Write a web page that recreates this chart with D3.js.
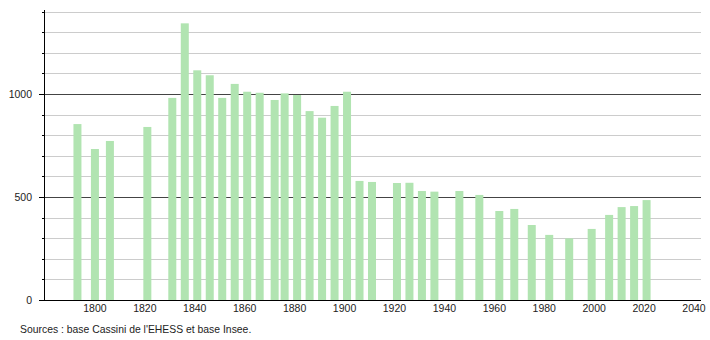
<!DOCTYPE html>
<html>
<head>
<meta charset="utf-8">
<script src="https://cdn.jsdelivr.net/npm/d3@7"></script>
<style>
  body { margin: 0; background: #fff; }
  text { font-family: "Liberation Sans", Arial, sans-serif; }
</style>
</head>
<body>
<div id="viz"></div>
<script>
let years = [1793, 1800, 1806, 1821, 1831, 1836, 1841, 1846, 1851, 1856, 1861, 1866,
  1872, 1876, 1881, 1886, 1891, 1896, 1901, 1906, 1911, 1921, 1926, 1931, 1936,
  1946, 1954, 1962, 1968, 1975, 1982, 1990, 1999, 2006, 2011, 2016, 2021]
let population = [854, 733, 772, 840, 981, 1343, 1115, 1091, 981, 1049, 1011, 1006,
  971, 1003, 995, 917, 885, 942, 1011, 578, 573, 568, 569, 529, 526,
  529, 510, 432, 442, 364, 316, 299, 345, 413, 451, 456, 485]
let xTicks = [1800, 1820, 1840, 1860, 1880, 1900, 1920, 1940, 1960, 1980, 2000, 2020, 2040]
let yLabels = [0, 500, 1000]
let yGrid = d3.range(100, 1500, 100)

let svg = d3.select('#viz')
  .append('svg')
  .attr('width', 710)
  .attr('height', 340)

let x = d3.scaleLinear().domain([1779.6, 2042.8]).range([44, 701])
let y = d3.scaleLinear().domain([0, 1000]).range([300, 94])

// grid lines
svg.selectAll('.grid')
  .data(yGrid)
  .enter().append('line')
  .attr('x1', 44)
  .attr('x2', 701)
  .attr('y1', d => Math.round(y(d)) + 0.5)
  .attr('y2', d => Math.round(y(d)) + 0.5)
  .attr('stroke', d => d % 500 === 0 ? '#444' : '#ccc')
  .attr('stroke-width', 1)

// bars
svg.selectAll('.bar')
  .data(years)
  .enter().append('rect')
  .attr('x', d => x(d) - 4)
  .attr('width', 8)
  .attr('y', (d, i) => y(population[i]))
  .attr('height', (d, i) => 300 - y(population[i]))
  .attr('fill', '#b1e4b1')

// y axis with minor ticks
svg.append('line')
  .attr('x1', 44.5).attr('x2', 44.5)
  .attr('y1', 10).attr('y2', 300)
  .attr('stroke', '#000')

svg.selectAll('.ytick')
  .data(yGrid.concat([0]))
  .enter().append('line')
  .attr('x1', d => d % 500 === 0 ? 39 : 42)
  .attr('x2', 44)
  .attr('y1', d => Math.round(y(d)) + 0.5)
  .attr('y2', d => Math.round(y(d)) + 0.5)
  .attr('stroke', '#000')

svg.selectAll('.ylabel')
  .data(yLabels)
  .enter().append('text')
  .attr('x', 32)
  .attr('y', d => y(d) + 4)
  .attr('text-anchor', 'end')
  .attr('font-size', 10.5)
  .attr('fill', '#222')
  .text(d => d)

// x axis
svg.append('line')
  .attr('x1', 40).attr('x2', 701)
  .attr('y1', 300.5).attr('y2', 300.5)
  .attr('stroke', '#000')

svg.selectAll('.xlabel')
  .data(xTicks)
  .enter().append('text')
  .attr('x', d => x(d))
  .attr('y', 312)
  .attr('text-anchor', 'middle')
  .attr('font-size', 10.5)
  .attr('fill', '#222')
  .text(d => d)

svg.append('text')
  .attr('x', 20)
  .attr('y', 333)
  .attr('font-size', 10.4)
  .attr('fill', '#222')
  .text("Sources : base Cassini de l'EHESS et base Insee.")
</script>
</body>
</html>
